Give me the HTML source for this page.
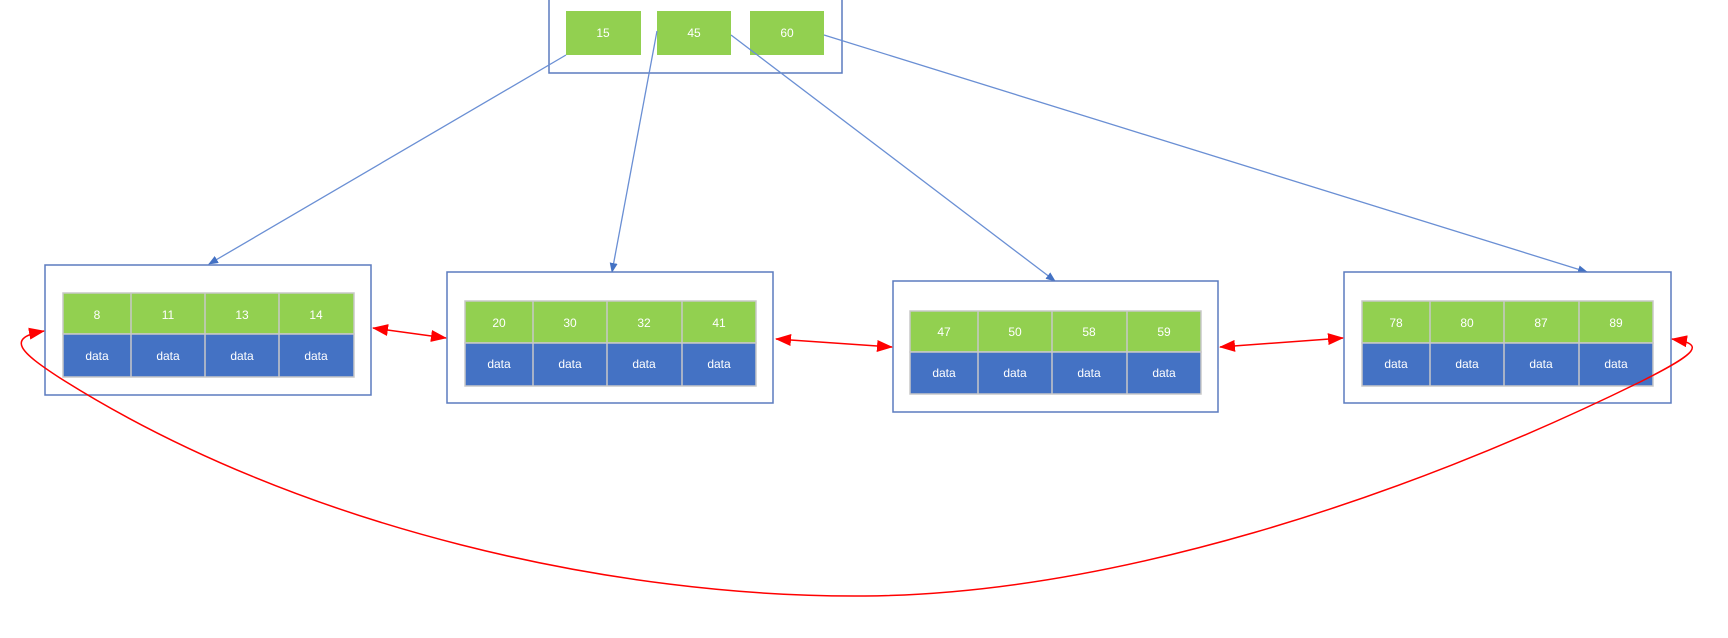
<!DOCTYPE html>
<html><head><meta charset="utf-8"><style>
html,body{margin:0;padding:0;background:#fff;}
svg{display:block;}
text{font-family:"Liberation Sans",sans-serif;font-size:12px;fill:#fff;text-anchor:middle;}
</style></head><body>
<svg width="1728" height="638" viewBox="0 0 1728 638" xmlns="http://www.w3.org/2000/svg">
<defs>
<marker id="ba" markerWidth="10" markerHeight="8" refX="9" refY="4" orient="auto" markerUnits="userSpaceOnUse"><path d="M0,0 L10,4 L0,8 z" fill="#4472c4"/></marker>
<marker id="ra" markerWidth="16" markerHeight="12" refX="15" refY="6" orient="auto" markerUnits="userSpaceOnUse"><path d="M0,0 L16,6 L0,12 z" fill="#ff0000"/></marker>
<marker id="rs" markerWidth="16" markerHeight="12" refX="1" refY="6" orient="auto" markerUnits="userSpaceOnUse"><path d="M16,0 L0,6 L16,12 z" fill="#ff0000"/></marker>
</defs>
<!-- root -->
<rect x="549" y="-2" width="293" height="75" fill="none" stroke="#5b7bbf" stroke-width="1.5"/>
<rect x="566" y="11" width="75" height="44" fill="#92d050"/><text x="603" y="37">15</text>
<rect x="657" y="11" width="74" height="44" fill="#92d050"/><text x="694" y="37">45</text>
<rect x="750" y="11" width="74" height="44" fill="#92d050"/><text x="787" y="37">60</text>
<!-- blue arrows -->
<g stroke="#6a8fd4" stroke-width="1.3" fill="none">
<line x1="566" y1="55" x2="209" y2="264" marker-end="url(#ba)"/>
<line x1="657" y1="31" x2="612" y2="272" marker-end="url(#ba)"/>
<line x1="731" y1="35" x2="1055" y2="281" marker-end="url(#ba)"/>
<line x1="824" y1="35" x2="1587" y2="272" marker-end="url(#ba)"/>
</g>
<!-- leaves -->
<g id="leaves">
<rect x="45" y="265" width="326" height="130" fill="#fff" stroke="#5b7bbf" stroke-width="1.5"/>
<rect x="447" y="272" width="326" height="131" fill="#fff" stroke="#5b7bbf" stroke-width="1.5"/>
<rect x="893" y="281" width="325" height="131" fill="#fff" stroke="#5b7bbf" stroke-width="1.5"/>
<rect x="1344" y="272" width="327" height="131" fill="#fff" stroke="#5b7bbf" stroke-width="1.5"/>
</g>
<g stroke="#c8c8c8" stroke-width="1.5">
<!-- leaf1 -->
<rect x="63" y="293" width="291" height="41" fill="#92d050"/><rect x="63" y="334" width="291" height="43" fill="#4472c4"/>
<line x1="131" y1="293" x2="131" y2="377"/><line x1="205" y1="293" x2="205" y2="377"/><line x1="279" y1="293" x2="279" y2="377"/>
<!-- leaf2 -->
<rect x="465" y="301" width="291" height="42" fill="#92d050"/><rect x="465" y="343" width="291" height="43" fill="#4472c4"/>
<line x1="533" y1="301" x2="533" y2="386"/><line x1="607" y1="301" x2="607" y2="386"/><line x1="682" y1="301" x2="682" y2="386"/>
<!-- leaf3 -->
<rect x="910" y="311" width="291" height="41" fill="#92d050"/><rect x="910" y="352" width="291" height="42" fill="#4472c4"/>
<line x1="978" y1="311" x2="978" y2="394"/><line x1="1052" y1="311" x2="1052" y2="394"/><line x1="1127" y1="311" x2="1127" y2="394"/>
<!-- leaf4 -->
<rect x="1362" y="301" width="291" height="42" fill="#92d050"/><rect x="1362" y="343" width="291" height="43" fill="#4472c4"/>
<line x1="1430" y1="301" x2="1430" y2="386"/><line x1="1504" y1="301" x2="1504" y2="386"/><line x1="1579" y1="301" x2="1579" y2="386"/>
</g>
<g>
<text x="97" y="319">8</text><text x="168" y="319">11</text><text x="242" y="319">13</text><text x="316" y="319">14</text>
<text x="97" y="360">data</text><text x="168" y="360">data</text><text x="242" y="360">data</text><text x="316" y="360">data</text>
<text x="499" y="327">20</text><text x="570" y="327">30</text><text x="644" y="327">32</text><text x="719" y="327">41</text>
<text x="499" y="368">data</text><text x="570" y="368">data</text><text x="644" y="368">data</text><text x="719" y="368">data</text>
<text x="944" y="336">47</text><text x="1015" y="336">50</text><text x="1089" y="336">58</text><text x="1164" y="336">59</text>
<text x="944" y="377">data</text><text x="1015" y="377">data</text><text x="1089" y="377">data</text><text x="1164" y="377">data</text>
<text x="1396" y="327">78</text><text x="1467" y="327">80</text><text x="1541" y="327">87</text><text x="1616" y="327">89</text>
<text x="1396" y="368">data</text><text x="1467" y="368">data</text><text x="1541" y="368">data</text><text x="1616" y="368">data</text>
</g>
<!-- red arrows -->
<g stroke="#ff0000" stroke-width="1.5" fill="none">
<line x1="373" y1="328" x2="446" y2="338" marker-start="url(#rs)" marker-end="url(#ra)"/>
<line x1="776" y1="339" x2="892" y2="347" marker-start="url(#rs)" marker-end="url(#ra)"/>
<line x1="1220" y1="347" x2="1343" y2="338" marker-start="url(#rs)" marker-end="url(#ra)"/>
<path d="M1672,339 C1705,344 1700,352 1640,382 C1400,500 1110,594 865,596 C620,598 300,530 60,378 C20,352 5,338 44,331" marker-start="url(#rs)" marker-end="url(#ra)"/>
</g>
</svg>
</body></html>
